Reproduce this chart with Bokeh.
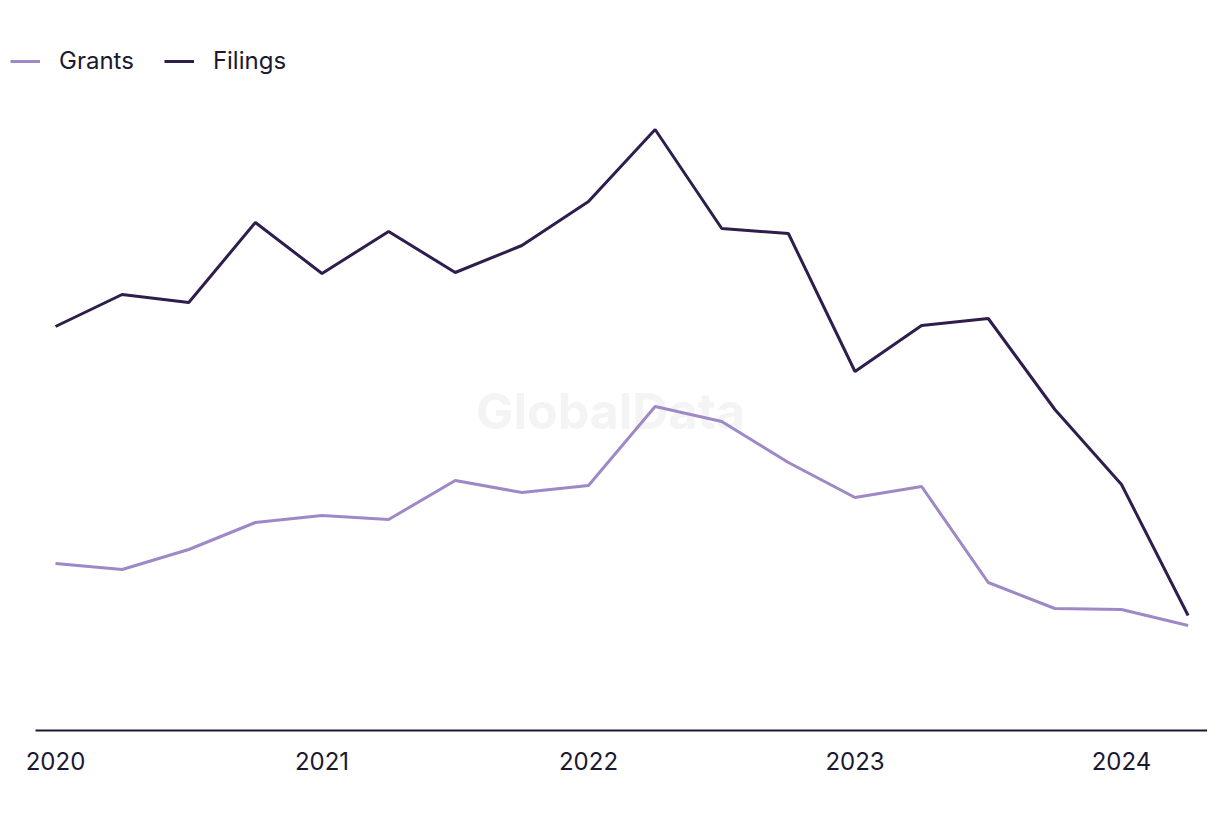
from bokeh.plotting import figure
from bokeh.models import Range1d, Legend, LegendItem, Label, FixedTicker
from bokeh.embed import file_html
from bokeh.resources import INLINE

years = [2020, 2020, 2020, 2020, 2021, 2021, 2021, 2021, 2022, 2022, 2022, 2022,
         2023, 2023, 2023, 2023, 2024, 2024]
quarters = [1, 2, 3, 4, 1, 2, 3, 4, 1, 2, 3, 4, 1, 2, 3, 4, 1, 2]
filings = [404, 436, 428, 508, 457, 499, 458, 485, 529, 601, 502, 497,
           359, 405, 412, 321, 246, 115]
grants = [167, 161, 181, 208, 215, 211, 250, 238, 245, 324, 309, 268,
          233, 244, 148, 122, 121, 105]
tick_years = [2020, 2021, 2022, 2023, 2024]

x = [y + (q - 1) / 4 for y, q in zip(years, quarters)]

# layout constants (axis baseline extent)
X0, X1 = 2019.7936, 2024.3715
AX0, AX1 = 2019.925, 2024.321

FONT = "Inter"
TXT = "#1b1830"
p = figure(width=1220, height=816, output_backend="svg", toolbar_location=None,
           x_range=Range1d(X0, X1), y_range=Range1d(-4, 730),
           min_border_left=0, min_border_right=0, min_border_top=0, min_border_bottom=82)
p.outline_line_color = None
p.grid.visible = False
p.yaxis.visible = False
p.background_fill_color = "white"

xa = p.xaxis[0]
xa.ticker = FixedTicker(ticks=tick_years)
xa.axis_line_color = None
xa.major_tick_line_color = None
xa.minor_tick_line_color = None
xa.major_label_standoff = 11
xa.major_label_text_font = FONT
xa.major_label_text_font_size = "24px"
xa.major_label_text_color = TXT

wm = Label(x=610, y=324, x_units="screen", y_units="screen", text="GlobalData",
           text_font=FONT, text_font_style="bold", text_font_size="50px",
           text_color="#f4f4f4", text_align="center", text_baseline="middle",
           level="underlay")
p.add_layout(wm)

p.segment(x0=[AX0], y0=[0], x1=[AX1], y1=[0], line_color=TXT, line_width=2)

rg = p.line(x, grants, line_color="#9f88c6", line_width=3)
rf = p.line(x, filings, line_color="#2e1d4d", line_width=3)

legend = Legend(items=[LegendItem(label="Grants", renderers=[rg]),
                       LegendItem(label="Filings", renderers=[rf])],
                orientation="horizontal", location=(10, 659),
                label_text_font=FONT, label_text_font_size="24px",
                label_text_color=TXT, glyph_width=30, glyph_height=26,
                label_standoff=19, spacing=30, padding=0, margin=0,
                border_line_color=None, background_fill_alpha=0)
p.add_layout(legend, "center")

open("out.html", "w").write(file_html(p, INLINE))
